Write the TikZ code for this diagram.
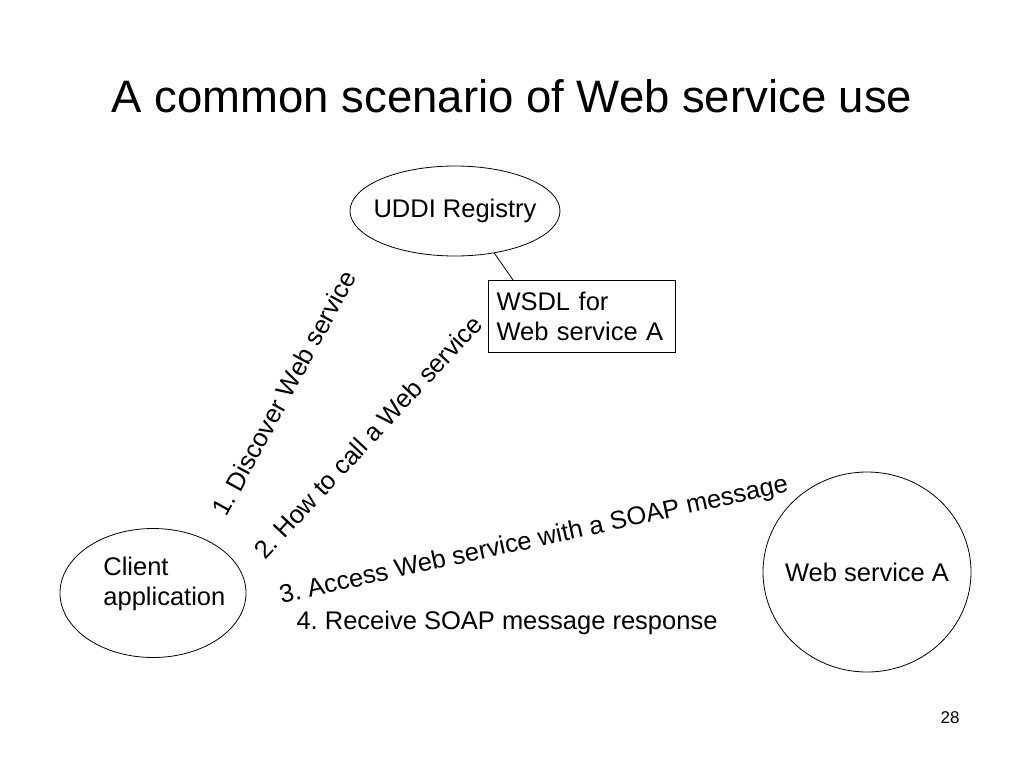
\documentclass[tikz,border=0pt]{standalone}
\usepackage{fontspec}
\setmainfont{Liberation Sans}
\usepackage{tikz}
\usetikzlibrary{shapes.geometric}
\frenchspacing

\begin{document}
\begin{tikzpicture}[x=1pt,y=-1pt,line width=0.8pt,
  lbl/.style={font=\fontsize{25.5}{30}\selectfont,inner sep=0pt},
  oval/.style={ellipse,draw,inner sep=0pt},
  wsdlbox/.style={rectangle,draw,align=left,minimum width=187pt,minimum height=72pt,text width=170pt,inner xsep=8.5pt,font=\fontsize{25.5}{30}\selectfont}]
\useasboundingbox (0,0) rectangle (1024,768);
\node[font=\fontsize{45.5}{50}\selectfont] (title) at (512,96) {A common scenario of Web service use};
% registry and its WSDL
\node[oval,minimum width=210pt,minimum height=90pt] (uddi) at (455,211) {};
\node[lbl] (uddilbl) at (uddi.center) {UDDI Registry};
\node[wsdlbox] (wsdl) at (581.5,316) {WSDL for\\Web service A};
\coordinate (wtop) at (513,280);
\draw (uddi.313) -- (wtop);
% client and service
\node[oval,minimum width=186pt,minimum height=129pt] (client) at (153,593) {};
\node[lbl,align=left,anchor=west] (clienttxt) at (103,584) {Client\\application};
\node[oval,minimum width=208pt,minimum height=200pt] (wsa) at (867,572) {};
\node[lbl] (wsalbl) at (wsa.center) {Web service A};
\foreach \pos/\ang/\txt in %
{{(284,393)}/61.5/1. Discover Web service,{(368,437)}/47/2. How to call a Web service,{(534,541)}/12.4/3. Access Web service with a SOAP message} {
   \node[lbl,rotate=\ang] at \pos {\txt};
}
\node[lbl] (recv) at (507,623) {4. Receive SOAP message response};
\node[font=\fontsize{17}{19}\selectfont] (page) at (950,718) {28};
\end{tikzpicture}
\end{document}
